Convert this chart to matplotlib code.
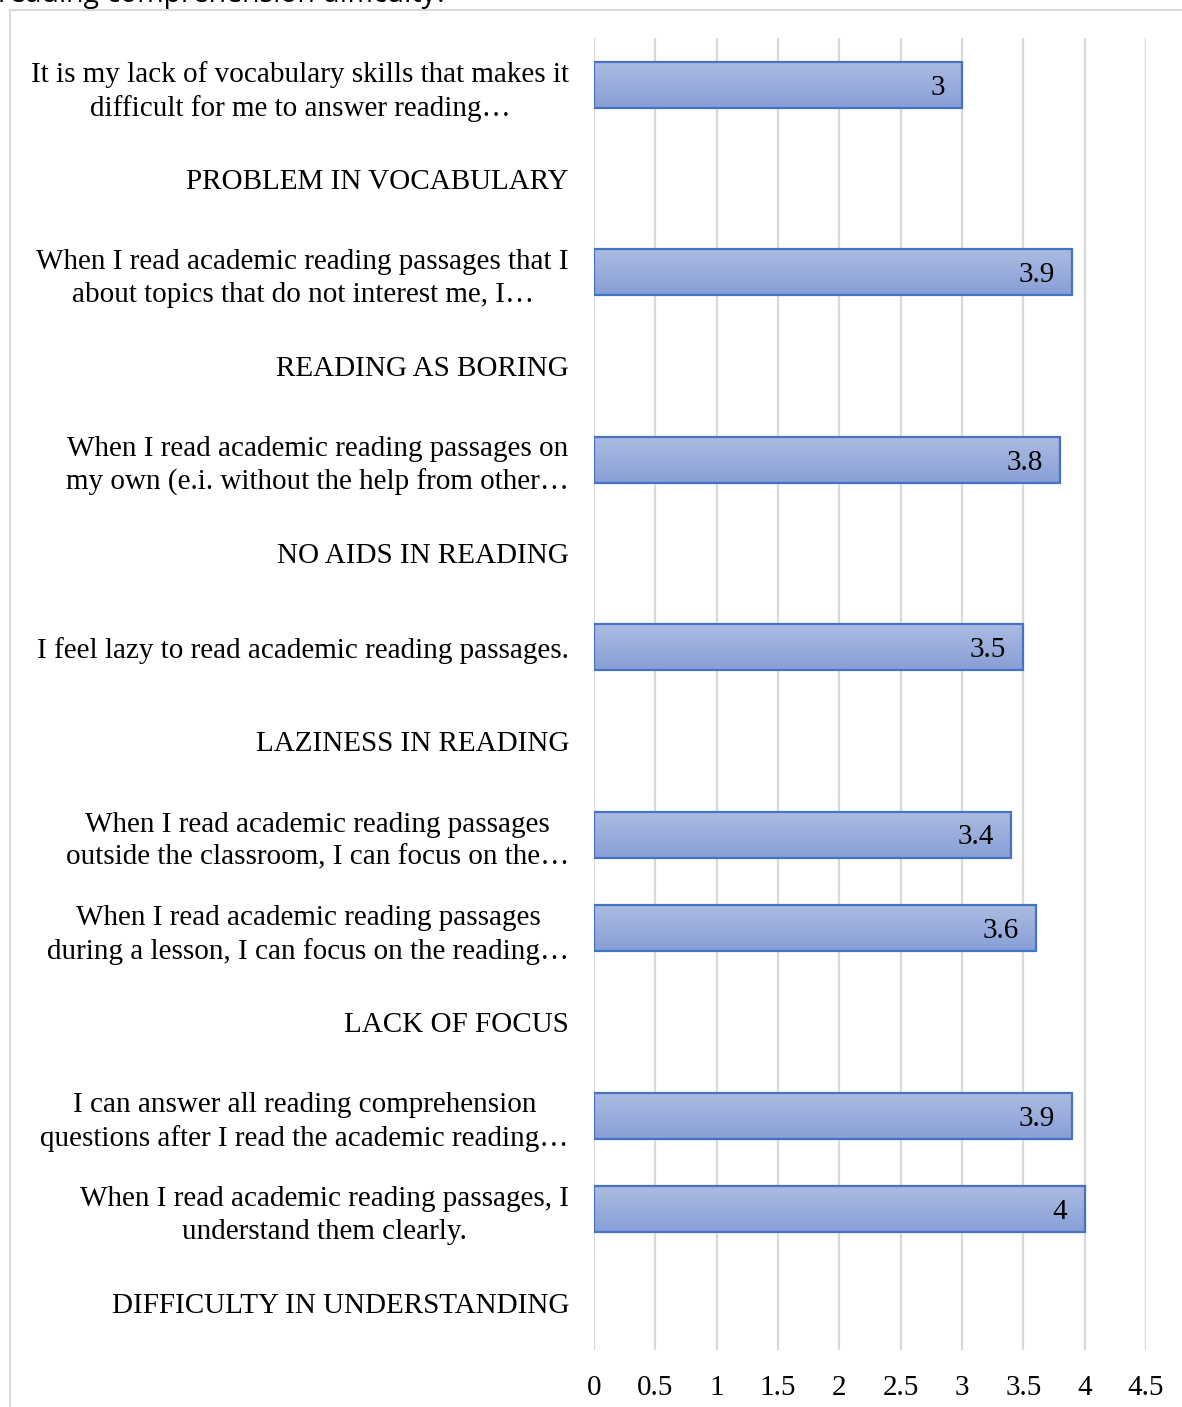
import matplotlib
matplotlib.use("Agg")
import matplotlib.pyplot as plt
import numpy as np

# categories listed top to bottom, as they appear in the chart
labels = [
    "It is my lack of vocabulary skills that makes it\ndifficult for me to answer reading\u2026",
    "PROBLEM IN VOCABULARY",
    "When I read academic reading passages that I\nabout topics that do not interest me, I\u2026",
    "READING AS BORING",
    "When I read academic reading passages on\nmy own (e.i. without the help from other\u2026",
    "NO AIDS IN READING",
    "I feel lazy to read academic reading passages.",
    "LAZINESS IN READING",
    "When I read academic reading passages\noutside the classroom, I can focus on the\u2026",
    "When I read academic reading passages\nduring a lesson, I can focus on the reading\u2026",
    "LACK OF FOCUS",
    "I can answer all reading comprehension\nquestions after I read the academic reading\u2026",
    "When I read academic reading passages, I\nunderstand them clearly.",
    "DIFFICULTY IN UNDERSTANDING",
]
values = [3, None, 3.9, None, 3.8, None, 3.5, None, 3.4, 3.6, None, 3.9, 4, None]
xticks = [0, 0.5, 1, 1.5, 2, 2.5, 3, 3.5, 4, 4.5]

W, H = 1182, 1407
fig = plt.figure(figsize=(W / 100, H / 100), dpi=100)
ax = fig.add_axes([594 / W, 1 - 1350 / H, (1146 - 594) / W, (1350 - 38) / H])

serif = "Liberation Serif"
fs = 21

n = len(labels)
ypos = np.arange(n)
ax.set_xlim(0, 4.5)
ax.set_ylim(n - 0.5, -0.5)

for x in xticks:
    ax.axvline(x, color="#D9D9D9", lw=1.6, zorder=0)

grad = np.linspace(0, 1, 64).reshape(-1, 1)
cmap = matplotlib.colors.LinearSegmentedColormap.from_list("g", ["#ABBBE2", "#889FD6"])
bh = 0.49
for y, v in zip(ypos, values):
    if v is None:
        continue
    rect = ax.barh(y, v, height=bh, color="none", edgecolor="#4472C4", lw=1.6, zorder=3)[0]
    im = ax.imshow(grad, cmap=cmap, aspect="auto", extent=(0, v, y + bh / 2, y - bh / 2),
                   zorder=2, interpolation="bilinear")
    im.set_clip_path(rect)
    ax.text(v - 0.14, y + 0.03, f"{v:g}", ha="right", va="center", fontsize=fs,
            family=serif, zorder=4)

ax.set_xlim(0, 4.5)
ax.set_ylim(n - 0.5, -0.5)
ax.set_xticks(xticks)
ax.set_xticklabels([f"{t:g}" for t in xticks], fontsize=fs, family=serif)
ax.set_yticks(ypos)
ax.set_yticklabels(labels, fontsize=fs, family=serif, multialignment="center", linespacing=1.33)
ax.tick_params(axis="both", length=0)
ax.tick_params(axis="y", pad=18)
ax.tick_params(axis="x", pad=18)
for s in ax.spines.values():
    s.set_visible(False)

# outer chart frame (top and left edges visible)
fig.add_artist(plt.Line2D([10 / W, 1], [1 - 10 / H, 1 - 10 / H], color="#D9D9D9", lw=1.5))
fig.add_artist(plt.Line2D([10 / W, 10 / W], [1 - 10 / H, 0], color="#D9D9D9", lw=1.5))

# title text cut off at the top of the picture
fig.text(-2 / W, 1 - 2 / H, "reading comprehension difficulty?", fontsize=20.5,
         family="Open Sans", va="baseline", ha="left")

fig.savefig("out.png", dpi=100)
